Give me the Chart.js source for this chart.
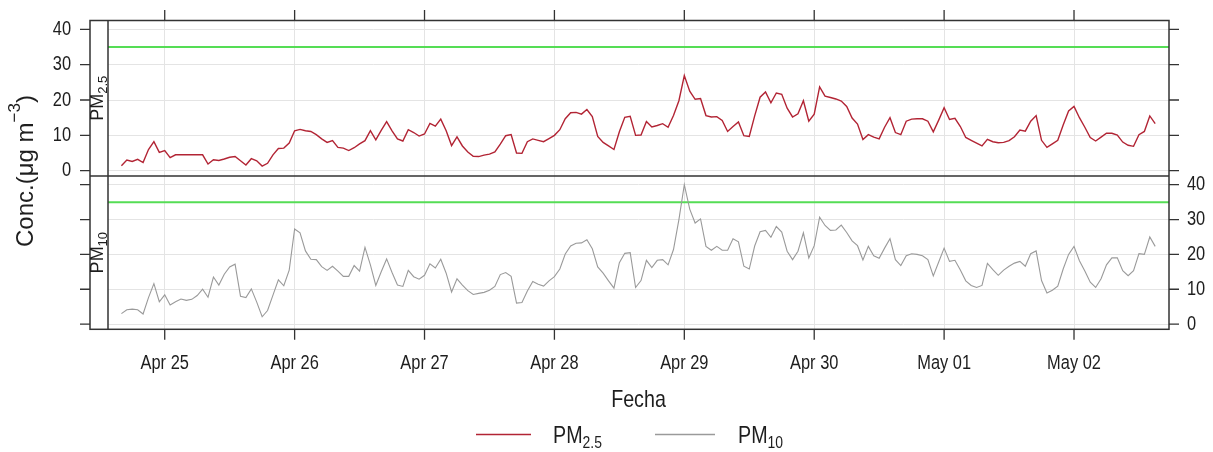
<!DOCTYPE html>
<html>
<head>
<meta charset="utf-8">
<title>PM2.5 y PM10</title>
<script src="https://cdn.jsdelivr.net/npm/chart.js@4.4.1/dist/chart.umd.min.js"></script>
<style>
  body { margin: 0; background: #fff; }
  #wrap { width: 1213px; height: 452px; }
</style>
</head>
<body>
<div id="wrap"><canvas id="myChart" width="1213" height="452"></canvas></div>
<script>

// hourly concentrations, first value is Apr 24 16:00
const pm25 = [
  1.4, 3.0, 2.6, 3.2, 2.3, 6.0, 8.2, 5.2, 5.7, 3.7,
  4.5, 4.5, 4.5, 4.5, 4.5, 4.5, 1.9, 3.1, 2.9, 3.3,
  3.8, 4.0, 2.8, 1.6, 3.4, 2.8, 1.3, 2.1, 4.5, 6.3,
  6.4, 7.8, 11.3, 11.7, 11.3, 11.1, 10.2,
  9.0, 8.0, 8.5, 6.6, 6.4, 5.7, 6.5, 7.6, 8.5, 11.3,
  8.7, 11.4, 13.9, 11.3, 9.0, 8.4, 11.6, 10.8, 9.8, 10.4,
  13.4, 12.6, 14.6, 11.3, 7.1, 9.6, 7.0, 5.3, 4.1, 4.0,
  4.4, 4.7, 5.3, 7.5, 9.9, 10.2, 5.0, 4.9, 8.2,
  9.0, 8.6, 8.2, 9.1, 10.0, 11.6, 14.7, 16.4, 16.5, 16.0,
  17.3, 15.3, 9.7, 8.0, 7.0, 6.0, 11.0, 15.1, 15.4, 10.0,
  10.1, 13.9, 12.4, 12.8, 13.3, 12.3, 15.6, 19.8, 26.9, 22.5,
  20.2, 20.4, 15.6, 15.2, 15.3, 14.2, 11.1, 12.5, 13.8,
  9.9, 9.7, 15.5, 20.8, 22.3, 19.2, 22.0, 21.6, 17.7, 15.2,
  16.1, 19.8, 14.0, 16.0, 23.7, 21.1, 20.7, 20.3, 19.7, 18.2,
  14.9, 13.2, 8.8, 10.2, 9.5, 9.0, 12.3, 15.0, 10.8, 10.2,
  14.0, 14.6, 14.7, 14.7, 14.0, 11.0, 14.3, 17.8, 14.5,
  14.8, 12.5, 9.4, 8.6, 7.8, 7.0, 8.9, 8.2, 7.9, 8.0,
  8.5, 9.6, 11.5, 11.2, 14.0, 15.6, 8.6, 6.6, 7.6, 8.6,
  12.9, 16.9, 18.2, 15.0, 12.3, 9.4, 8.4, 9.5, 10.6, 10.6,
  10.1, 8.1, 7.2, 6.9, 10.2, 11.1, 15.5, 13.3
];

const pm10 = [
  3.0, 4.1, 4.3, 4.1, 2.9, 7.6, 11.6, 6.4, 8.4, 5.5,
  6.4, 7.2, 6.8, 7.1, 8.2, 10.0, 7.7, 13.5, 11.2, 14.3,
  16.4, 17.2, 8.0, 7.6, 10.1, 6.3, 2.1, 3.9, 8.3, 12.7,
  11.0, 15.5, 27.3, 26.2, 21.0, 18.6, 18.5,
  16.5, 15.4, 16.6, 15.2, 13.7, 13.7, 16.8, 15.2, 22.0, 17.0,
  11.1, 15.0, 18.7, 14.8, 11.2, 10.8, 15.4, 13.6, 12.9, 14.0,
  17.3, 16.1, 18.6, 14.6, 9.2, 13.0, 11.2, 9.6, 8.5, 8.8,
  9.1, 9.7, 10.8, 14.2, 14.8, 13.7, 6.0, 6.2, 9.5,
  12.2, 11.4, 10.9, 12.4, 13.6, 15.8, 20.1, 22.4, 23.2, 23.3,
  24.2, 21.6, 16.4, 14.6, 12.4, 10.3, 17.6, 20.3, 20.5, 10.5,
  12.5, 18.3, 16.2, 18.3, 18.5, 17.0, 21.4, 30.0, 40.0, 33.0,
  29.0, 30.2, 22.3, 21.2, 22.3, 21.2, 21.2, 24.5, 23.6,
  16.6, 15.8, 22.4, 26.5, 26.9, 24.9, 28.0, 26.4, 20.9, 18.5,
  20.9, 26.2, 19.0, 22.5, 30.7, 28.3, 26.9, 27.0, 28.4, 26.3,
  23.9, 22.5, 18.4, 22.3, 19.6, 18.9, 21.8, 24.5, 18.5, 16.8,
  19.6, 20.2, 20.0, 19.6, 18.5, 13.8, 17.8, 21.8, 18.0,
  18.3, 15.5, 12.4, 11.1, 10.5, 11.1, 17.4, 15.6, 14.0, 15.5,
  16.6, 17.5, 18.0, 16.6, 20.2, 21.0, 12.5, 8.9, 9.7, 10.9,
  15.8, 20.0, 22.3, 18.2, 15.2, 12.0, 10.5, 13.0, 17.0, 19.0,
  19.0, 15.3, 13.9, 15.3, 20.2, 20.0, 25.0, 22.3
];

const startHour = -8; // hours counted from Apr 25 00:00
const tickHours = [0, 24, 48, 72, 96, 120, 144, 168];
const tickLabels = ['Apr 25', 'Apr 26', 'Apr 27', 'Apr 28', 'Apr 29', 'Apr 30', 'May 01', 'May 02'];
const yTicks = [0, 10, 20, 30, 40];
const limit = 35;

const xMin = -10.48, xMax = 185.55;
const yMin = -1.5, yMax = 42.5;

const split = 176;      // border between the two panels
const stripLeft = 90;   // left edge of the strips
const sq = 0.82;        // horizontal text is drawn a bit condensed
const sans = "'Liberation Sans', Arial, sans-serif";
const ink = '#1e1e1e';
const red = '#b22434';
const grey = '#9a9a9a';
const green = '#55dd55';

const hours = pm25.map((v, i) => startHour + i);
const toXY = arr => arr.map((v, i) => ({x: hours[i], y: v}));
const limitLine = [{x: xMin, y: limit}, {x: xMax, y: limit}];

// text with sub/superscripts, parts = [{t, size, dy}]
function textRun(ctx, parts, x, y, align) {
  let w = 0;
  parts.forEach(p => { ctx.font = p.size + 'px ' + sans; w += ctx.measureText(p.t).width; });
  let cx = x;
  if (align === 'center') cx = x - w / 2;
  if (align === 'right') cx = x - w;
  parts.forEach(p => {
    ctx.font = p.size + 'px ' + sans;
    ctx.fillText(p.t, cx, y + (p.dy || 0));
    cx += ctx.measureText(p.t).width;
  });
}

function narrowRun(ctx, parts, x, y, align) {
  ctx.save();
  ctx.translate(x, y);
  ctx.scale(sq, 1);
  textRun(ctx, parts, 0, 0, align);
  ctx.restore();
}

const panels = {
  id: 'panels',
  afterLayout(chart) {
    const a = chart.chartArea;
    const yTop = chart.scales.yTop, yBot = chart.scales.yBot;
    yTop.top = a.top; yTop.bottom = split; yTop.height = split - a.top;
    yTop.configure();
    yBot.top = split; yBot.bottom = a.bottom; yBot.height = a.bottom - split;
    yBot.configure();
  },
  afterDraw(chart) {
    const ctx = chart.ctx, a = chart.chartArea;
    const x = chart.scales.x, yTop = chart.scales.yTop, yBot = chart.scales.yBot;
    ctx.save();

    // tick marks on all four sides
    ctx.strokeStyle = '#333';
    ctx.lineWidth = 1.3;
    ctx.beginPath();
    x.ticks.forEach(t => {
      const px = x.getPixelForValue(t.value);
      ctx.moveTo(px, a.top - 10.5); ctx.lineTo(px, a.top);
      ctx.moveTo(px, a.bottom); ctx.lineTo(px, a.bottom + 10.5);
    });
    [yTop, yBot].forEach(s => s.ticks.forEach(t => {
      const py = s.getPixelForValue(t.value);
      ctx.moveTo(stripLeft - 10, py); ctx.lineTo(stripLeft, py);
      ctx.moveTo(a.right, py); ctx.lineTo(a.right + 10, py);
    }));
    ctx.stroke();

    // panel frames and strips
    ctx.lineWidth = 1.5;
    ctx.strokeRect(stripLeft, a.top, a.right - stripLeft, a.bottom - a.top);
    ctx.beginPath();
    ctx.moveTo(stripLeft, split); ctx.lineTo(a.right, split);
    ctx.moveTo(a.left, a.top); ctx.lineTo(a.left, a.bottom);
    ctx.stroke();

    ctx.fillStyle = ink;
    ctx.textBaseline = 'alphabetic';
    [[yTop, '2.5'], [yBot, '10']].forEach(([s, sub]) => {
      ctx.save();
      ctx.translate(a.left - 5, (s.top + s.bottom) / 2);
      ctx.rotate(-Math.PI / 2);
      textRun(ctx, [{t: 'PM', size: 18}, {t: sub, size: 13, dy: 4}], 0, 0, 'center');
      ctx.restore();
    });

    // tick labels: y on the left for the upper panel, on the right for the lower one
    ctx.textBaseline = 'middle';
    x.ticks.forEach((t, i) => {
      narrowRun(ctx, [{t: tickLabels[i], size: 20}], x.getPixelForValue(t.value), 363, 'center');
    });
    yTop.ticks.forEach(t => {
      narrowRun(ctx, [{t: String(t.value), size: 20}], stripLeft - 19, yTop.getPixelForValue(t.value), 'right');
    });
    yBot.ticks.forEach(t => {
      narrowRun(ctx, [{t: String(t.value), size: 20}], a.right + 18, yBot.getPixelForValue(t.value), 'left');
    });
    narrowRun(ctx, [{t: 'Fecha', size: 24}], (a.left + a.right) / 2, 400, 'center');

    // y axis title
    ctx.textBaseline = 'alphabetic';
    ctx.save();
    ctx.translate(33, 247);
    ctx.rotate(-Math.PI / 2);
    textRun(ctx, [{t: 'Conc.(\u03bcg m', size: 24}, {t: '\u22123', size: 17, dy: -13}, {t: ')', size: 24}], 0, 0, 'left');
    ctx.restore();

    // key
    ctx.lineWidth = 1.5;
    ctx.strokeStyle = red;
    ctx.beginPath(); ctx.moveTo(476, 434.5); ctx.lineTo(531, 434.5); ctx.stroke();
    ctx.strokeStyle = grey;
    ctx.beginPath(); ctx.moveTo(655, 434.5); ctx.lineTo(715, 434.5); ctx.stroke();
    narrowRun(ctx, [{t: 'PM', size: 24}, {t: '2.5', size: 17, dy: 5}], 553, 443, 'left');
    narrowRun(ctx, [{t: 'PM', size: 24}, {t: '10', size: 17, dy: 5}], 738, 443, 'left');

    ctx.restore();
  }
};

const gridColor = '#e4e4e4';

new Chart(document.getElementById('myChart'), {
  type: 'line',
  data: {
    datasets: [
      { label: 'PM2.5', data: toXY(pm25), xAxisID: 'x', yAxisID: 'yTop',
        borderColor: red, borderWidth: 1.4, pointRadius: 0, tension: 0, fill: false },
      { label: 'PM10', data: toXY(pm10), xAxisID: 'x', yAxisID: 'yBot',
        borderColor: grey, borderWidth: 1.1, pointRadius: 0, tension: 0, fill: false },
      { label: 'limit', data: limitLine, xAxisID: 'x', yAxisID: 'yTop',
        borderColor: green, borderWidth: 2, pointRadius: 0, fill: false },
      { label: 'limit', data: limitLine, xAxisID: 'x', yAxisID: 'yBot',
        borderColor: green, borderWidth: 2, pointRadius: 0, fill: false }
    ]
  },
  options: {
    responsive: false,
    animation: false,
    events: [],
    layout: { padding: { top: 20.5, left: 0, right: 0, bottom: 0 } },
    plugins: { legend: { display: false }, tooltip: { enabled: false } },
    scales: {
      x: {
        type: 'linear', position: 'bottom', min: xMin, max: xMax,
        afterBuildTicks: s => { s.ticks = tickHours.map(v => ({value: v})); },
        afterFit: s => { s.height = 452 - 329.3; s.paddingLeft = 0; s.paddingRight = 0; },
        ticks: { display: false },
        grid: { color: gridColor, drawTicks: false },
        border: { display: false }
      },
      yTop: {
        type: 'linear', position: 'left', min: yMin, max: yMax,
        afterBuildTicks: s => { s.ticks = yTicks.map(v => ({value: v})); },
        afterFit: s => { s.width = 108; s.paddingTop = 0; s.paddingBottom = 0; },
        ticks: { display: false },
        grid: { color: gridColor, drawTicks: false },
        border: { display: false }
      },
      yBot: {
        type: 'linear', position: 'right', min: yMin, max: yMax,
        afterBuildTicks: s => { s.ticks = yTicks.map(v => ({value: v})); },
        afterFit: s => { s.width = 1213 - 1169; s.paddingTop = 0; s.paddingBottom = 0; },
        ticks: { display: false },
        grid: { color: gridColor, drawTicks: false },
        border: { display: false }
      }
    }
  },
  plugins: [panels]
});
</script>
</body>
</html>
